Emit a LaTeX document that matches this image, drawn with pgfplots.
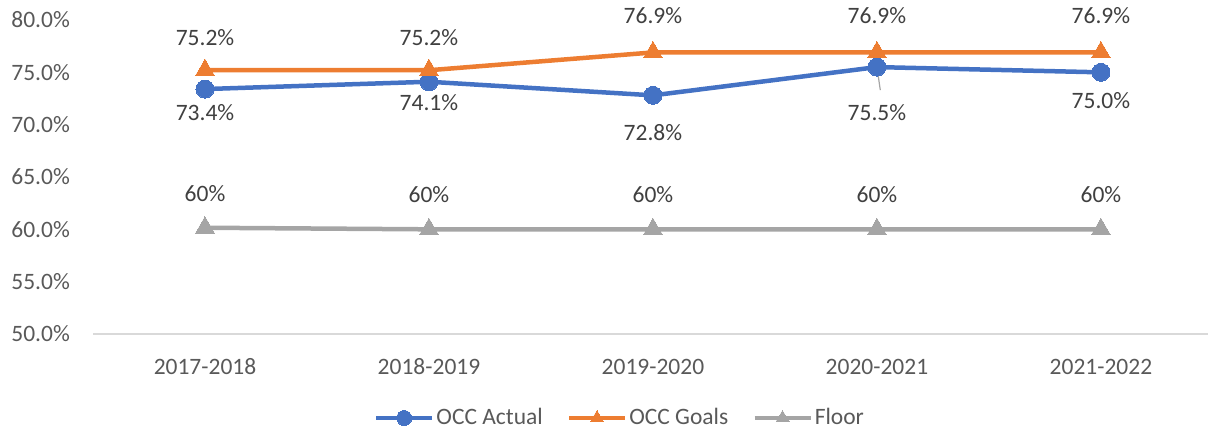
\documentclass[border=0pt]{standalone}
\usepackage{pgfplots}
\usepackage{pgfplotstable}
\pgfplotsset{compat=1.18}
\usepackage{fontspec}
\setmainfont{Carlito}
\definecolor{cblue}{HTML}{4472C4}
\definecolor{corange}{HTML}{ED7D31}
\definecolor{cgray}{HTML}{A5A5A5}
\definecolor{ctext}{HTML}{404040}
\definecolor{ctick}{HTML}{595959}
\definecolor{caxis}{HTML}{D9D9D9}

\pgfplotstableread{
x y lab dy
0 73.4 73.4 -24
1 74.1 74.1 -21
2 72.8 72.8 -37
4 75.0 75.0 -28
}\actuallab
\pgfplotstableread{
x y
0 73.4
1 74.1
2 72.8
3 75.5
4 75.0
}\actual
\pgfplotstableread{
x y lab dy
0 75.2 75.2 33
1 75.2 75.2 33
2 76.9 76.9 37
3 76.9 76.9 37
4 76.9 76.9 37
}\goals
\pgfplotstableread{
x y lab dy
0 60.15 60 34
1 60.0 60 35
2 60.0 60 35
3 60.0 60 35
4 60.0 60 35
}\floor

\begin{document}
\fontsize{23.5pt}{28pt}\selectfont
\begin{tikzpicture}
\useasboundingbox (0,0) rectangle (1208pt,435pt);
\begin{axis}[
  at={(93pt,101pt)}, anchor=south west,
  scale only axis, width=1115pt, height=314pt,
  xmin=-0.5, xmax=4.478, ymin=50, ymax=80,
  xtick={0,1,2,3,4},
  xticklabels={2017-2018,2018-2019,2019-2020,2020-2021,2021-2022},
  ytick={50,55,60,65,70,75,80},
  yticklabel={\pgfmathprintnumber[fixed,fixed zerofill,precision=1,assume math mode=true]{\tick}\%},
  axis lines*=left,
  x axis line style={draw=caxis, line width=1.2pt},
  y axis line style={draw=none},
  major tick length=0pt,
  tick label style={font=\fontsize{23.5pt}{28pt}\selectfont, text=ctick},
  yticklabel style={anchor=east, inner sep=0pt, xshift=-23pt},
  xticklabel style={anchor=center, inner sep=0pt, yshift=-33pt},
  clip=false,
  legend columns=3,
  legend style={at={(0.4726,-0.2675)}, anchor=center, draw=none, fill=none,
    font=\fontsize{23.5pt}{28pt}\selectfont, text=ctick,
    /tikz/every even column/.append style={column sep=22pt},
    nodes={inner sep=2pt}},
  legend image code/.code={\draw[mark repeat=2, mark phase=2, #1, mark size=7.5pt] plot coordinates {(0pt,0pt) (28pt,0pt) (56pt,0pt)};},
]
\addplot[cblue, line width=4.5pt, mark=*, mark size=9pt, mark options={solid, line width=0pt, fill=cblue}] table[x=x,y=y] {\actual};
\addlegendentry{OCC Actual}
\addplot[corange, line width=4.5pt, mark=triangle*, mark size=11pt, mark options={solid, line width=0pt, fill=corange},
  point meta=explicit symbolic,
  visualization depends on={\thisrow{dy} \as \dy},
  nodes near coords={\pgfplotspointmeta\%},
  every node near coord/.append style={anchor=center, yshift=\dy pt, text=ctext, font=\fontsize{23.5pt}{28pt}\selectfont}]
  table[x=x,y=y,meta=lab] {\goals};
\addlegendentry{OCC Goals}
\addplot[cgray, line width=4.5pt, mark=triangle*, mark size=11pt, mark options={solid, line width=0pt, fill=cgray},
  point meta=explicit symbolic,
  visualization depends on={\thisrow{dy} \as \dy},
  nodes near coords={\pgfplotspointmeta\%},
  every node near coord/.append style={anchor=center, yshift=\dy pt, text=ctext, font=\fontsize{23.5pt}{28pt}\selectfont}]
  table[x=x,y=y,meta=lab] {\floor};
\addlegendentry{Floor}
% labels for actual series
\addplot[draw=none, mark=none, forget plot,
  point meta=explicit symbolic,
  visualization depends on={\thisrow{dy} \as \dy},
  nodes near coords={\pgfplotspointmeta\%},
  every node near coord/.append style={anchor=center, yshift=\dy pt, text=ctext, font=\fontsize{23.5pt}{28pt}\selectfont}]
  table[x=x,y=y,meta=lab] {\actuallab};
\addplot[draw=none, mark=none, forget plot,
  nodes near coords={75.5\%},
  every node near coord/.append style={anchor=center, yshift=-45pt, text=ctext, font=\fontsize{23.5pt}{28pt}\selectfont}]
  coordinates {(3,75.5)};
\draw[cgray, line width=1.2pt] (axis cs:3,75.5) -- (axis cs:3.015,73.3);
\end{axis}
\end{tikzpicture}
\end{document}
